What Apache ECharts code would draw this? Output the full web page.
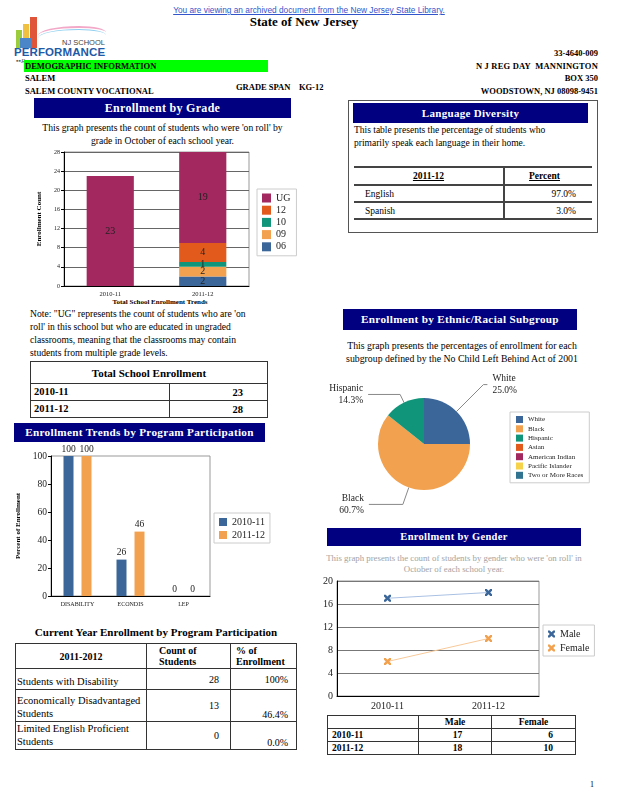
<!DOCTYPE html>
<html><head><meta charset="utf-8">
<script src="https://cdn.jsdelivr.net/npm/echarts@6/dist/echarts.min.js"></script>
<style>
body{margin:0;background:#fff;font-family:"Liberation Serif","Times New Roman",serif;color:#000;}
#page{position:relative;width:618px;height:800px;overflow:hidden;background:#fff;}
.a{position:absolute;white-space:nowrap;}
.hb{position:absolute;background:#000080;color:#fff;font-weight:bold;text-align:center;font-family:"Liberation Serif","Times New Roman",serif;letter-spacing:0.3px;}
.b{font-weight:bold;}
table{border-collapse:collapse;position:absolute;}
.tt td{border:1.5px solid #333;}
.chart{position:absolute;}
</style></head>
<body><div id="page">

<div class="a" style="left:0;width:618px;top:5px;text-align:center;font-family:'Liberation Sans',Arial,sans-serif;font-size:8.3px;line-height:10px;color:#3355cc;text-decoration:underline;">You are viewing an archived document from the New Jersey State Library.</div>
<div class="a b" style="left:0;width:608px;top:15px;text-align:center;font-size:13px;line-height:14px;">State of New Jersey</div>

<!-- logo -->
<div class="a" style="left:16px;top:30px;width:6px;height:18px;background:#9ccc3c;"></div>
<div class="a" style="left:23px;top:24px;width:6px;height:24px;background:#f0c040;"></div>
<div class="a" style="left:30px;top:17px;width:7px;height:31px;background:#e0553a;"></div>
<div class="a" style="left:20px;top:38px;width:12px;height:10px;background:#4a86c8;"></div>
<div class="a" style="left:38px;top:26px;width:68px;height:14px;border-top:2px solid #f3a8c8;border-radius:60% 40% 0 0;"></div>
<div class="a" style="left:38px;top:29px;width:68px;height:14px;border-top:1.5px solid #8fd0f0;border-radius:60% 40% 0 0;"></div>
<div class="a" style="left:62px;top:39px;font-family:'Liberation Sans',Arial,sans-serif;font-size:7.5px;line-height:8px;color:#444;">NJ SCHOOL</div>
<div class="a" style="left:14px;top:46px;font-family:'Liberation Sans',Arial,sans-serif;font-weight:bold;font-size:11.5px;line-height:12px;color:#1e5aa8;letter-spacing:0.1px;">PERFORMANCE</div>
<div class="a" style="left:16px;top:57px;font-style:italic;font-size:7px;line-height:8px;color:#666;">▪▪Report</div>

<div class="a b" style="left:24px;top:60px;width:244px;height:12px;background:#00ff00;font-size:8.5px;line-height:12px;padding-left:1px;box-sizing:border-box;">DEMOGRAPHIC INFORMATION</div>
<div class="a b" style="left:25px;top:73px;font-size:8.5px;line-height:10px;">SALEM</div>
<div class="a b" style="left:25px;top:86px;font-size:8.5px;line-height:10px;">SALEM COUNTY VOCATIONAL</div>
<div class="a b" style="left:236px;top:82px;font-size:8.5px;line-height:10px;white-space:pre;">GRADE SPAN    KG-12</div>
<div class="a b" style="right:20px;top:48px;font-size:8.5px;line-height:10px;text-align:right;">33-4640-009</div>
<div class="a b" style="right:20px;top:61px;font-size:8.5px;line-height:10px;text-align:right;white-space:pre;letter-spacing:0.2px;">N J REG DAY  MANNINGTON</div>
<div class="a b" style="right:20px;top:73px;font-size:8.5px;line-height:10px;text-align:right;">BOX 350</div>
<div class="a b" style="right:20px;top:86px;font-size:8.5px;line-height:10px;text-align:right;">WOODSTOWN, NJ 08098-9451</div>

<!-- Enrollment by grade -->
<div class="hb" style="left:34px;top:98px;width:257px;height:20px;font-size:12px;line-height:20px;">Enrollment by Grade</div>
<div class="a" style="left:20px;width:285px;top:122px;text-align:center;font-size:9.6px;line-height:12.5px;white-space:normal;">This graph presents the count of students who were 'on roll' by<br>grade in October of each school year.</div>
<div id="c1" class="chart" style="left:0;top:140px;width:310px;height:158px;"></div>
<div class="a b" style="left:60px;width:200px;top:298px;text-align:center;font-size:7px;line-height:8px;">Total School Enrollment Trends</div>
<div class="a" style="left:30px;top:307px;font-size:9.6px;line-height:13px;">Note: "UG" represents the count of students who are 'on<br>roll' in this school but who are educated in ungraded<br>classrooms, meaning that the classrooms may contain<br>students from multiple grade levels.</div>
<table id="tTotal" class="tt" style="left:30px;top:361px;width:238px;"></table>

<!-- program participation -->
<div class="hb" style="left:14px;top:423px;width:251px;height:19px;font-size:11.2px;line-height:19px;">Enrollment Trends by Program Participation</div>
<div id="c3" class="chart" style="left:0;top:440px;width:300px;height:180px;"></div>
<div class="a b" style="left:15px;width:282px;top:626px;text-align:center;font-size:11px;line-height:13px;">Current Year Enrollment by Program Participation</div>
<table id="tCur" class="tt" style="left:15px;top:643px;width:282px;"></table>

<!-- language -->
<div class="a" style="left:348px;top:100px;width:248px;height:131px;border:1px solid #555;"></div>
<div class="hb" style="left:353px;top:103px;width:235px;height:20px;font-size:11px;line-height:20px;">Language Diversity</div>
<div class="a" style="left:354px;top:124px;font-size:9.5px;line-height:13px;">This table presents the percentage of students who<br>primarily speak each language in their home.</div>
<table id="tLang" style="left:354px;top:166px;width:238px;"></table>

<!-- ethnic -->
<div class="hb" style="left:343px;top:309px;width:234px;height:21px;font-size:11.2px;line-height:21px;">Enrollment by Ethnic/Racial Subgroup</div>
<div class="a" style="left:312px;width:300px;top:339px;text-align:center;font-size:9.8px;line-height:13px;">This graph presents the percentages of enrollment for each<br>subgroup defined by the No Child Left Behind Act of 2001</div>
<div id="c2" class="chart" style="left:320px;top:360px;width:298px;height:165px;"></div>

<!-- gender -->
<div class="hb" style="left:327px;top:528px;width:254px;height:18px;font-size:10.5px;line-height:18px;">Enrollment by Gender</div>
<div class="a" style="left:304px;width:300px;top:553px;text-align:center;font-size:8.8px;line-height:11px;color:#a3a3a3;">This graph presents the count of students by gender who were 'on roll' in<br>October of each school year.</div>
<div id="c4" class="chart" style="left:320px;top:570px;width:298px;height:145px;"></div>
<table id="tGen" class="tt" style="left:327px;top:715px;width:249px;"></table>

<div class="a" style="left:590px;top:780px;font-size:8px;line-height:9px;">1</div>
</div>

<script>
// ---------- data ----------
const gradeYears = ['2010-11', '2011-12'];
const gradeNames = ['UG', '12', '10', '09', '06'];
const gradeUG = [23, 19];
const grade12 = [0, 4];
const grade10 = [0, 1];
const grade09 = [0, 2];
const grade06 = [0, 2];
const gradeTotals = [23, 28];

const programCats = ['DISABILITY', 'ECONDIS', 'LEP'];
const programYears = ['2010-11', '2011-12'];
const program2010 = [100, 26, 0];
const program2011 = [100, 46, 0];

const currentYearLabel = '2011-2012';
const currentRows = ['Students with Disability', 'Economically Disadvantaged Students', 'Limited English Proficient Students'];
const currentCounts = [28, 13, 0];
const currentPct = ['100%', '46.4%', '0.0%'];

const langYear = '2011-12';
const langNames = ['English', 'Spanish'];
const langPct = ['97.0%', '3.0%'];

const ethnicNames = ['White', 'Black', 'Hispanic', 'Asian', 'American Indian', 'Pacific Islander', 'Two or More Races'];
const ethnicPct = [25.0, 60.7, 14.3, 0, 0, 0, 0];

const genderYears = ['2010-11', '2011-12'];
const genderMale = [17, 18];
const genderFemale = [6, 10];

// ---------- styles ----------
const C = {blue:'#3b6699', orange:'#f2a14e', teal:'#11957a', red:'#e25a1c', maroon:'#a3285f', yellow:'#f5d24a', steel:'#2f7391'};
const SERIF = '"Liberation Serif","Times New Roman",serif';
const X_PATH = 'path://M0,0 L2.5,0 L5,2.5 L7.5,0 L10,0 L10,2.5 L7.5,5 L10,7.5 L10,10 L7.5,10 L5,7.5 L2.5,10 L0,10 L0,7.5 L2.5,5 L0,2.5 Z';

// ---------- tables ----------
(function(){
  let h = '<tr><td colspan="2" style="text-align:center;font-weight:bold;font-size:11px;height:19px;">Total School Enrollment</td></tr>';
  gradeYears.forEach((y,i)=>{
    h += `<tr><td style="width:134px;font-weight:bold;font-size:10.5px;padding-left:3px;height:14px;line-height:14px;">${y}</td><td style="text-align:right;font-weight:bold;font-size:10.5px;padding-right:24px;">${gradeTotals[i]}</td></tr>`;
  });
  document.getElementById('tTotal').innerHTML = h;

  let c = `<tr><td style="width:128px;text-align:center;font-weight:bold;font-size:10px;height:22px;">${currentYearLabel}</td><td style="width:70px;font-weight:bold;font-size:10px;line-height:11px;padding-left:12px;vertical-align:top;">Count of<br>Students</td><td style="font-weight:bold;font-size:10px;line-height:11px;padding-left:5px;vertical-align:top;">% of<br>Enrollment</td></tr>`;
  const rh = [18, 29, 22];
  currentRows.forEach((r,i)=>{
    c += `<tr><td style="font-size:10.5px;line-height:12.5px;height:${rh[i]}px;vertical-align:bottom;white-space:normal;">${r}</td><td style="text-align:right;font-size:10px;padding-right:11px;">${currentCounts[i]}</td><td style="text-align:right;font-size:10px;padding-right:8px;vertical-align:${i===0?'middle':'bottom'};">${currentPct[i]}</td></tr>`;
  });
  document.getElementById('tCur').innerHTML = c;

  let l = `<tr><td style="width:147px;border-top:2px solid #444;border-bottom:2px solid #444;border-right:2px solid #444;text-align:center;font-weight:bold;font-size:9.5px;text-decoration:underline;height:14px;">${langYear}</td><td style="border-top:2px solid #444;border-bottom:2px solid #444;text-align:right;padding-right:32px;font-weight:bold;font-size:9.5px;text-decoration:underline;">Percent</td></tr>`;
  langNames.forEach((n,i)=>{
    l += `<tr><td style="border-bottom:2px solid #444;border-right:2px solid #444;font-size:9.5px;padding-left:11px;height:13px;">${n}</td><td style="border-bottom:2px solid #444;text-align:right;padding-right:16px;font-size:9.5px;">${langPct[i]}</td></tr>`;
  });
  document.getElementById('tLang').innerHTML = l;

  let g = '<tr><td style="width:88px;height:10px;"></td><td style="width:70px;text-align:center;font-weight:bold;font-size:9.5px;line-height:10px;">Male</td><td style="text-align:center;font-weight:bold;font-size:9.5px;line-height:10px;">Female</td></tr>';
  genderYears.forEach((y,i)=>{
    g += `<tr><td style="font-weight:bold;font-size:9.5px;line-height:10px;padding-left:4px;height:10px;">${y}</td><td style="text-align:center;font-weight:bold;font-size:9.5px;line-height:10px;padding-left:6px;">${genderMale[i]}</td><td style="text-align:right;font-weight:bold;font-size:9.5px;line-height:10px;padding-right:22px;">${genderFemale[i]}</td></tr>`;
  });
  document.getElementById('tGen').innerHTML = g;
})();

// ---------- chart 1: enrollment by grade ----------
const c1 = echarts.init(document.getElementById('c1'), null, {renderer:'canvas'});
const gradeSeries = [
  {name:'06', data:grade06, color:C.blue},
  {name:'09', data:grade09, color:C.orange},
  {name:'10', data:grade10, color:C.teal},
  {name:'12', data:grade12, color:C.red},
  {name:'UG', data:gradeUG, color:C.maroon}
];
c1.setOption({
  animation:false,
  textStyle:{fontFamily:SERIF},
  grid:{left:64, top:12, width:185, height:134, show:true, borderColor:'#999', borderWidth:1},
  legend:{data:gradeNames, orient:'vertical', left:257, top:49, itemWidth:9, itemHeight:9, itemGap:2.2,
    padding:[4,6,4,5], borderColor:'#ccc', borderWidth:1, icon:'rect',
    textStyle:{fontFamily:SERIF, fontSize:10, color:'#222'}},
  xAxis:{type:'category', data:gradeYears, axisLine:{lineStyle:{color:'#000', width:1}},
    axisTick:{show:false}, axisLabel:{fontSize:6.5, color:'#222', margin:5}},
  yAxis:{type:'value', min:0, max:28, interval:4, name:'Enrollment Count', nameLocation:'middle', nameGap:16, nameRotate:90,
    nameTextStyle:{fontFamily:SERIF, fontWeight:'bold', fontSize:7, color:'#000'},
    axisLine:{show:true, lineStyle:{color:'#000'}}, axisTick:{show:true, length:3, lineStyle:{color:'#000'}},
    axisLabel:{fontSize:6, color:'#222', margin:4}, splitLine:{lineStyle:{color:'#666', width:1}}},
  series: gradeSeries.map(s=>({
    name:s.name, type:'bar', stack:'g', data:s.data, barWidth:'51%',
    itemStyle:{color:s.color},
    label:{show:true, position:'inside', fontFamily:SERIF, fontSize:10, color:'#222',
      formatter:p=> p.value ? String(p.value) : ''}
  }))
});

// ---------- chart 3: program participation ----------
const c3 = echarts.init(document.getElementById('c3'));
c3.setOption({
  animation:false,
  textStyle:{fontFamily:SERIF},
  grid:{left:51, top:16, width:159, height:140, show:true, borderColor:'#999', borderWidth:1},
  legend:{data:programYears, orient:'vertical', left:214, top:73, itemWidth:8, itemHeight:8, itemGap:3,
    padding:[4,5,3,5], borderColor:'#ccc', borderWidth:1, icon:'rect',
    textStyle:{fontFamily:SERIF, fontSize:10, color:'#222'}},
  xAxis:{type:'category', data:programCats, axisLine:{lineStyle:{color:'#000'}}, axisTick:{show:false},
    axisLabel:{fontSize:6, color:'#222', margin:5}},
  yAxis:{type:'value', min:0, max:100, interval:20, name:'Percent of Enrollment', nameLocation:'middle', nameGap:22, nameRotate:90,
    nameTextStyle:{fontFamily:SERIF, fontWeight:'bold', fontSize:7, color:'#000'},
    axisLine:{show:true, lineStyle:{color:'#000'}}, axisTick:{show:true, length:3, lineStyle:{color:'#000'}},
    axisLabel:{fontSize:9.5, color:'#222', margin:4}, splitLine:{show:false}},
  series:[
    {name:programYears[0], type:'bar', data:program2010, barWidth:10, barGap:'80%', itemStyle:{color:C.blue},
      label:{show:true, position:'top', distance:2, fontFamily:SERIF, fontSize:9.5, color:'#222'}},
    {name:programYears[1], type:'bar', data:program2011, barWidth:10, barGap:'80%', itemStyle:{color:C.orange},
      label:{show:true, position:'top', distance:2, fontFamily:SERIF, fontSize:9.5, color:'#222'}}
  ]
});

// ---------- chart 2: ethnic pie ----------
const c2 = echarts.init(document.getElementById('c2'));
const ethnicColors = [C.blue, C.orange, C.teal, C.red, C.maroon, C.yellow, C.steel];
const ethnicLines = {White:{length:38, length2:4}, Black:{length:18, length2:34}, Hispanic:{length:9, length2:32}};
c2.setOption({
  animation:false,
  textStyle:{fontFamily:SERIF},
  color:ethnicColors,
  legend:{data:ethnicNames, orient:'vertical', left:190, top:52, itemWidth:7, itemHeight:7, itemGap:2.3,
    padding:[4,6,4,6], borderColor:'#ccc', borderWidth:1, icon:'rect',
    textStyle:{fontFamily:SERIF, fontSize:7, color:'#222'}},
  series:[{
    type:'pie', center:[104,84], radius:46, startAngle:90, clockwise:true,
    itemStyle:{borderWidth:0},
    label:{fontFamily:SERIF, fontSize:9.5, lineHeight:12, color:'#222',
      formatter:p=>p.name+'\n'+p.value.toFixed(1)+'%'},
    labelLine:{lineStyle:{color:'#888', width:1}, smooth:false},
    data: ethnicNames.map((n,i)=>{
      const d = {name:n, value:ethnicPct[i]};
      if (!ethnicPct[i]) { d.label = {show:false}; d.labelLine = {show:false}; }
      else if (ethnicLines[n]) d.labelLine = ethnicLines[n];
      return d;
    })
  }]
});

// ---------- chart 4: gender ----------
const c4 = echarts.init(document.getElementById('c4'));
c4.setOption({
  animation:false,
  textStyle:{fontFamily:SERIF},
  grid:{left:16, top:11, width:203, height:115, show:true, borderColor:'#999', borderWidth:1},
  legend:{data:[{name:'Male', icon:X_PATH},{name:'Female', icon:X_PATH}], orient:'vertical', left:223, top:55,
    itemWidth:7, itemHeight:7, itemGap:4, padding:[4,5,3,5], borderColor:'#ccc', borderWidth:1,
    textStyle:{fontFamily:SERIF, fontSize:10, color:'#222'}},
  xAxis:{type:'category', data:genderYears, boundaryGap:true, axisLine:{lineStyle:{color:'#000'}}, axisTick:{show:false},
    axisLabel:{fontSize:10, color:'#222', margin:5}},
  yAxis:{type:'value', min:0, max:20, interval:4, axisLine:{show:true, lineStyle:{color:'#000'}},
    axisTick:{show:false}, axisLabel:{fontSize:10, color:'#222', margin:4},
    splitLine:{lineStyle:{color:'#777', width:1}}},
  series:[
    {name:'Male', type:'line', data:genderMale, symbol:X_PATH, symbolSize:7,
      lineStyle:{color:'#a9c1e3', width:1}, itemStyle:{color:C.blue}},
    {name:'Female', type:'line', data:genderFemale, symbol:X_PATH, symbolSize:7,
      lineStyle:{color:'#f8c999', width:1}, itemStyle:{color:C.orange}}
  ]
});
</script>
</body></html>
